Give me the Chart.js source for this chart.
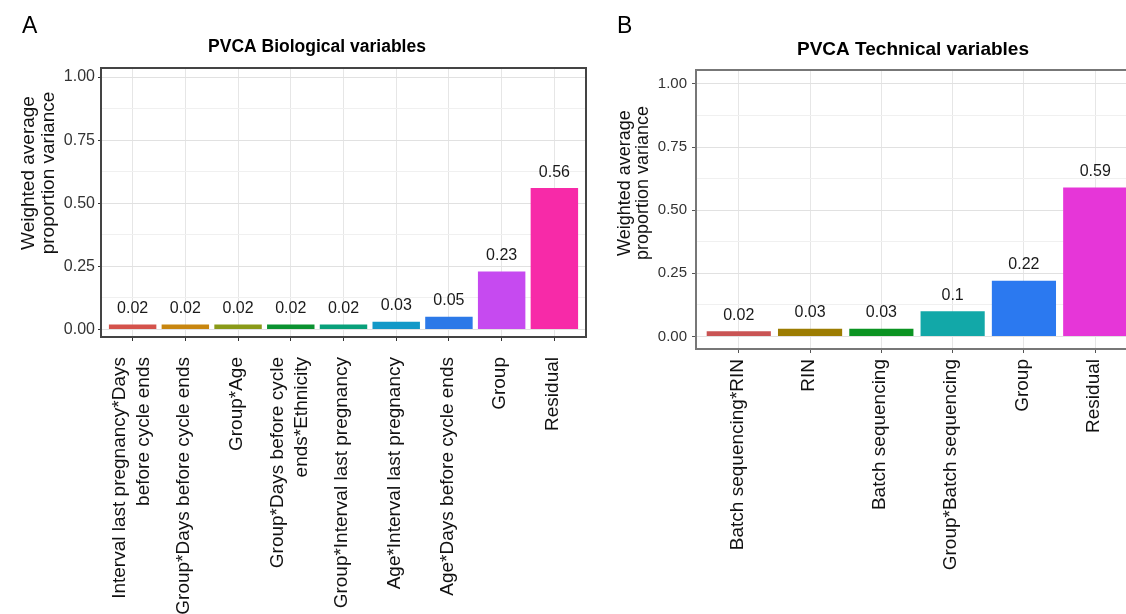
<!DOCTYPE html>
<html><head><meta charset="utf-8">
<script src="https://cdn.jsdelivr.net/npm/chart.js@4.4.1/dist/chart.umd.min.js"></script>
<style>
html,body{margin:0;padding:0;background:#fff;overflow:hidden;width:1126px;height:614px;position:relative;}
canvas{position:absolute;top:0;}
#cA{left:0;}
#cB{left:600px;}
</style></head><body>
<canvas id="cA" width="600" height="614"></canvas>
<canvas id="cB" width="560" height="614"></canvas>
<script>
// ---- data ----
const bioCategories = [
  ["Interval last pregnancy*Days", "before cycle ends"],
  "Group*Days before cycle ends",
  "Group*Age",
  ["Group*Days before cycle", "ends*Ethnicity"],
  "Group*Interval last pregnancy",
  "Age*Interval last pregnancy",
  "Age*Days before cycle ends",
  "Group",
  "Residual"
];
const bioValues = [0.02, 0.02, 0.02, 0.02, 0.02, 0.03, 0.05, 0.23, 0.56];
const bioColors = ["#d4524b", "#c8860f", "#8a9a18", "#0a9230", "#08a07a", "#1299c8", "#2c79e8", "#c64af0", "#f72aa8"];

const techCategories = ["Batch sequencing*RIN", "RIN", "Batch sequencing", "Group*Batch sequencing", "Group", "Residual"];
const techValues = [0.02, 0.03, 0.03, 0.1, 0.22, 0.59];
const techColors = ["#c95454", "#9c7c02", "#0b9322", "#12a8a8", "#2b79f0", "#e636d8"];

const yMajorTicks = [0, 0.25, 0.5, 0.75, 1];
const panelTitles = ["PVCA Biological variables", "PVCA Technical variables"];
const panelLetters = ["A", "B"];
const yTitleLines = ["Weighted average", "proportion variance"];

const FONT = "'Liberation Sans', Arial, Helvetica, sans-serif";
const X_LABEL_SIZE = 19, X_LINE_HEIGHT = 1.3;

function isMajor(v) { return yMajorTicks.some(t => Math.abs(t - v) < 1e-9); }

const panelPlugin = {
  id: 'panelDecor',
  afterDatasetsDraw(chart, args, opts) {
    const ctx = chart.ctx, a = chart.chartArea;
    const meta = chart.getDatasetMeta(0);
    ctx.save();
    // value labels above bars
    ctx.font = opts.valueSize + 'px ' + FONT;
    ctx.fillStyle = '#1a1a1a';
    ctx.textAlign = 'center';
    ctx.textBaseline = 'middle';
    meta.data.forEach((bar, i) => {
      const v = chart.data.datasets[0].data[i].y;
      ctx.fillText(String(v), bar.x, bar.y - 16);
    });
    // panel border
    ctx.strokeStyle = opts.borderColor;
    ctx.lineWidth = opts.borderWidth;
    ctx.strokeRect(a.left, a.top, a.right - a.left, a.bottom - a.top);
    // title
    ctx.fillStyle = '#000';
    ctx.font = 'bold ' + opts.titleSize + 'px ' + FONT;
    ctx.fillText(opts.title, opts.titleX, opts.titleY);
    // panel letter
    ctx.font = opts.letterSize + 'px ' + FONT;
    ctx.textAlign = 'left';
    ctx.fillText(opts.letter, opts.letterX, opts.letterY);
    // y-axis title (rotated)
    ctx.font = opts.yTitleSize + 'px ' + FONT;
    ctx.textAlign = 'center';
    ctx.fillStyle = '#111';
    opts.yTitle.forEach((line, i) => {
      ctx.save();
      ctx.translate(opts.yTitleX[i], opts.yTitleY);
      ctx.rotate(-Math.PI / 2);
      ctx.fillText(line, 0, 0);
      ctx.restore();
    });
    ctx.restore();
  }
};

function makePanel(id, c) {
  const data = c.values.map((v, i) => ({ x: i, y: v }));
  const lh = X_LABEL_SIZE * X_LINE_HEIGHT;
  const xTickFont = { family: FONT, size: X_LABEL_SIZE, lineHeight: X_LINE_HEIGHT };
  return new Chart(document.getElementById(id), {
    type: 'bar',
    data: { datasets: [{ data: data, xAxisID: 'x', backgroundColor: c.colors, borderWidth: 0, categoryPercentage: 0.9, barPercentage: 1 }] },
    options: {
      responsive: false,
      animation: false,
      layout: { padding: c.padding },
      plugins: {
        legend: { display: false },
        tooltip: { enabled: false },
        panelDecor: c.decor
      },
      scales: {
        // companion axis (closest to plot) for two-line labels, centred on their ticks
        xm: {
          type: 'linear', position: 'bottom', weight: 0,
          min: -0.6, max: c.values.length - 0.4, offset: false,
          grid: { display: false, drawOnChartArea: false, drawTicks: true, tickLength: 4, tickColor: 'rgba(0,0,0,0)' },
          border: { display: false },
          ticks: {
            stepSize: 1, autoSkip: false, includeBounds: false,
            minRotation: 90, maxRotation: 90, mirror: true,
            labelOffset: lh / 2 - 1,
            padding: -(4 + c.xPad), color: '#111', font: xTickFont,
            callback: (v) => (Number.isInteger(v) && Array.isArray(c.categories[v])) ? c.categories[v] : ''
          },
          afterFit: (s) => { s.height = 0; }
        },
        // main category axis: grid, tick marks, single-line labels
        x: {
          type: 'linear', position: 'bottom', weight: 1,
          min: -0.6, max: c.values.length - 0.4, offset: false,
          grid: { offset: false, color: '#e6e6e6', lineWidth: 1, tickColor: c.tickColor, tickLength: 4, drawTicks: true },
          border: { display: false },
          ticks: {
            stepSize: 1, autoSkip: false, includeBounds: false,
            minRotation: 90, maxRotation: 90, labelOffset: -1.5,
            padding: c.xPad, color: '#111', font: xTickFont,
            callback: (v) => (Number.isInteger(v) && typeof c.categories[v] === 'string') ? c.categories[v] : ''
          },
          afterFit: (s) => { s.height = c.xHeight; }
        },
        y: {
          min: c.yMin, max: c.yMax,
          ticks: {
            stepSize: 0.125, includeBounds: false, autoSkip: false,
            padding: c.yPad, color: '#333',
            font: { family: FONT, size: c.yTickSize },
            callback: (v) => isMajor(v) ? v.toFixed(2) : ''
          },
          grid: {
            color: (ctx) => isMajor(ctx.tick.value) ? '#e1e1e1' : '#f0f0f0',
            tickColor: (ctx) => isMajor(ctx.tick.value) ? c.tickColor : 'rgba(0,0,0,0)',
            tickLength: c.yTickLen
          },
          border: { display: false },
          afterFit: (s) => { s.width = c.yWidth; }
        }
      }
    },
    plugins: [panelPlugin]
  });
}

makePanel('cA', {
  values: bioValues, colors: bioColors, categories: bioCategories,
  padding: { top: 68, right: 14, bottom: 0, left: 0 },
  yWidth: 101, xHeight: 277, yMin: -0.03, yMax: 1.036,
  yTickSize: 16, yTickLen: 3, yPad: 3, xPad: 16, tickColor: '#333',
  decor: {
    valueSize: 16, borderColor: '#444', borderWidth: 2,
    title: panelTitles[0], titleSize: 17.5, titleX: 317, titleY: 47,
    letter: panelLetters[0], letterSize: 23, letterX: 22, letterY: 27,
    yTitle: yTitleLines, yTitleSize: 19, yTitleX: [29, 49], yTitleY: 173
  }
});

makePanel('cB', {
  values: techValues, colors: techColors, categories: techCategories,
  padding: { top: 70, right: 22, bottom: 0, left: 0 },
  yWidth: 96, xHeight: 265, yMin: -0.05, yMax: 1.055,
  yTickSize: 15, yTickLen: 4, yPad: 5, xPad: 6, tickColor: '#555',
  decor: {
    valueSize: 16, borderColor: '#777', borderWidth: 2,
    title: panelTitles[1], titleSize: 19, titleX: 313, titleY: 50,
    letter: panelLetters[1], letterSize: 23, letterX: 17, letterY: 27,
    yTitle: yTitleLines, yTitleSize: 18, yTitleX: [25, 43], yTitleY: 183
  }
});
</script>
</body></html>
